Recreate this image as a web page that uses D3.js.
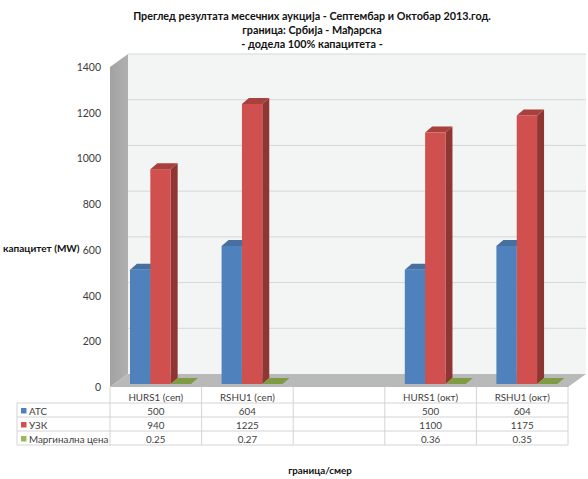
<!DOCTYPE html>
<html><head><meta charset="utf-8">
<script src="https://cdn.jsdelivr.net/npm/d3@7"></script>
<style>html,body{margin:0;padding:0;background:#fff}svg{display:block;font-family:Lato,"Open Sans","Noto Sans",sans-serif}</style>
</head><body><svg id="c" width="588" height="479"></svg>
<script>
const titleLines=["Преглед резултата месечних аукција - Септембар и Октобар 2013.год.","граница: Србија - Мађарска","- додела 100% капацитета -"];
const categories=["HURS1 (сеп)","RSHU1 (сеп)","","HURS1 (окт)","RSHU1 (окт)"];
const seriesNames=["АТС","УЗК","Маргинална цена"];
const atc=[500,604,null,500,604];
const uzk=[940,1225,null,1100,1175];
const marginal=[0.25,0.27,null,0.36,0.35];
const colors=["#4f81bd","#d0504f","#9bbb59"];
const sideColors=["#3a6296","#8f3533","#71893f"];
const topColors=["#44709f","#a83f3d","#86a24b"];
const yTicks=[0,200,400,600,800,1000,1200,1400];
const yLabel="капацитет (MW)",xLabel="граница/смер";

const svg=d3.select("#c");
const L=110,R=568,T=67,B=387,dx=18,dy=13;
const y=d3.scaleLinear().domain([0,1400]).range([B,T]);
const x=d3.scaleBand().domain(categories.map((c,i)=>i)).range([L,R]);
const xs=d3.scaleBand().domain(seriesNames).range([20,81]);
const bw=xs.bandwidth();
const defs=svg.append("defs");
const lg=defs.append("linearGradient").attr("id","w").attr("x1",0).attr("x2",1).attr("y1",0).attr("y2",0);
lg.append("stop").attr("offset",0).attr("stop-color","#a2a2a2");
lg.append("stop").attr("offset",1).attr("stop-color","#b0b0b0");
defs.append("filter").attr("id","soft").append("feGaussianBlur").attr("stdDeviation",0.35);

const P=a=>a.map(p=>p.join(",")).join(" ");
const plot=svg.append("g").attr("filter","url(#soft)");
plot.append("polygon").attr("points",P([[L+dx,T-dy],[R+dx,T-dy],[R+dx,B-dy],[L+dx,B-dy]])).attr("fill","#f2f5f4");
plot.append("polygon").attr("points",P([[L,T],[L+dx,T-dy],[L+dx,B-dy],[L,B]])).attr("fill","url(#w)");
plot.append("polygon").attr("points",P([[L,B],[L+dx,B-dy],[R+dx,B-dy],[R,B]])).attr("fill","#b9b9b9");
plot.append("g").selectAll("line").data(yTicks.slice(1)).join("line")
 .attr("x1",L+dx).attr("x2",R+dx).attr("y1",d=>y(d)-dy).attr("y2",d=>y(d)-dy)
 .attr("stroke","#d3d8d8").attr("stroke-width",1);

const series=[atc,uzk,marginal];
const base=3,bdx=7,bdy=6;
seriesNames.forEach((name,si)=>{
 const g=plot.append("g");
 series[si].forEach((v,i)=>{
  if(v==null)return;
  const x0=x(i)+xs(name),x1=x0+bw,yb=y(0)-base,yt=y(v)-base;
  if(si===2){
   g.append("polygon").attr("points",P([[x0,yb],[x0+bdx,yb-bdy],[x1+bdx,yb-bdy],[x1,yb]])).attr("fill","#7f9c45");
   return;
  }
  g.append("polygon").attr("points",P([[x1,yb],[x1+bdx,yb-bdy],[x1+bdx,yt-bdy],[x1,yt]])).attr("fill",sideColors[si]);
  g.append("polygon").attr("points",P([[x0,yt],[x0+bdx,yt-bdy],[x1+bdx,yt-bdy],[x1,yt]])).attr("fill",topColors[si]);
  g.append("rect").attr("x",x0).attr("y",yt).attr("width",bw).attr("height",yb-yt).attr("fill",colors[si]);
 });
});

// y axis labels
svg.append("g").attr("font-size",10.5).attr("fill","#3c3c3c").attr("text-anchor","end")
 .selectAll("text").data(yTicks).join("text").attr("x",101).attr("y",d=>y(d)+4).text(d=>d);

// title
svg.append("g").attr("font-size",10.8).attr("font-weight",700).attr("fill","#111").attr("text-anchor","middle")
 .selectAll("text").data(titleLines).join("text").attr("x",312).attr("y",(d,i)=>20+i*14).text(d=>d);
svg.append("text").attr("x",3).attr("y",252).attr("font-size",10).attr("font-weight",700).attr("fill","#111").text(yLabel);
svg.append("text").attr("x",320).attr("y",474).attr("text-anchor","middle").attr("font-size",9.8).attr("font-weight",700).attr("fill","#111").text(xLabel);

// data table
const rowY=d3.scaleBand().domain(d3.range(4)).range([389,445]);
const tbl=svg.append("g");
const gridC="#d4d4d4";
const vx=[L,...categories.map((c,i)=>x(i)+x.bandwidth())];
vx.forEach(v=>tbl.append("line").attr("x1",v).attr("x2",v).attr("y1",B).attr("y2",445).attr("stroke",gridC));
tbl.append("line").attr("x1",17).attr("x2",17).attr("y1",rowY(1)).attr("y2",445).attr("stroke",gridC);
[1,2,3,4].forEach(r=>{const yy=r<4?rowY(r):445;
 tbl.append("line").attr("x1",17).attr("x2",R).attr("y1",yy).attr("y2",yy).attr("stroke",gridC);});
const txt=tbl.append("g").attr("font-size",9.8).attr("fill","#404040");
categories.forEach((c,i)=>{
 const cx=x(i)+x.bandwidth()/2;
 txt.append("text").attr("x",cx).attr("y",rowY(0)+11.5).attr("text-anchor","middle").text(c);
 series.forEach((s,si)=>{ if(s[i]==null)return;
  txt.append("text").attr("x",cx).attr("y",rowY(si+1)+11.5).attr("text-anchor","middle").text(si===2?s[i].toFixed(2):s[i]);
 });
});
seriesNames.forEach((n,si)=>{
 const ry=rowY(si+1);
 tbl.append("rect").attr("x",21).attr("y",ry+5).attr("width",5.5).attr("height",5.5).attr("fill",colors[si]);
 txt.append("text").attr("x",29).attr("y",ry+11.5).text(n);
});
</script></body></html>
